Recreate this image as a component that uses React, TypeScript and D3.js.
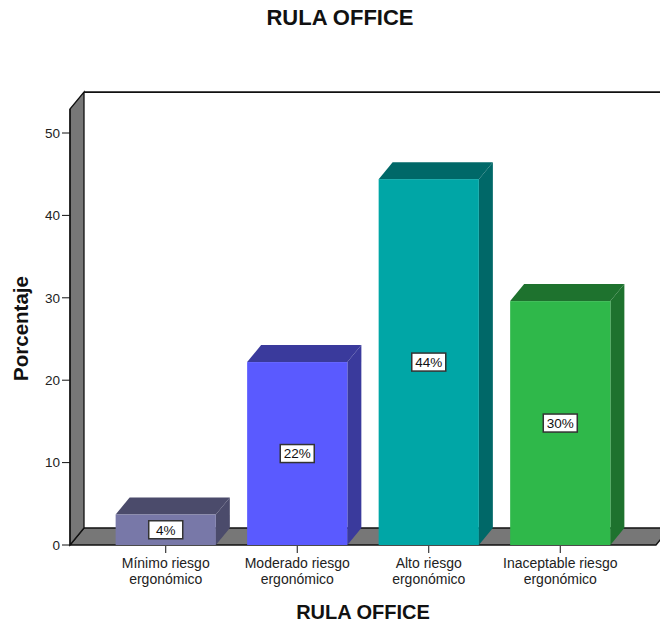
import React from "react";
import * as d3 from "d3";

// Share of workers in each RULA Office risk level (percent)
const categories: string[][] = [
  ["Mínimo riesgo", "ergonómico"],
  ["Moderado riesgo", "ergonómico"],
  ["Alto riesgo", "ergonómico"],
  ["Inaceptable riesgo", "ergonómico"],
];
const percentages: number[] = [3.7, 22.2, 44.4, 29.6];
const frontColors: string[] = ["#7878a8", "#5a5aff", "#00a6a6", "#2fb84a"];
const shadeColors: string[] = ["#4b4b6b", "#3a3a9c", "#006868", "#1e722e"];
const yTicks: number[] = [0, 10, 20, 30, 40, 50];

const W = 660;
const H = 623;
const DX = 14; // depth offset of the 3D frame
const DY = 17;

export default function App() {
  const x0 = 70;
  const x1 = 656;
  const y = d3.scaleLinear().domain([0, 50]).range([545, 133]);
  const yTop = y(52.9);
  const x = d3
    .scaleBand<number>()
    .domain(d3.range(categories.length))
    .range([x0, x1])
    .paddingInner(0.238)
    .paddingOuter(0.347);
  const fmt = d3.format(".0f");
  const font = "'Liberation Sans', Arial, sans-serif";

  const floor = [
    [x0, y(0)],
    [x1, y(0)],
    [x1 + DX, y(0) - DY],
    [x0 + DX, y(0) - DY],
  ];
  const wall = [
    [x0, y(0)],
    [x0 + DX, y(0) - DY],
    [x0 + DX, yTop - DY],
    [x0, yTop],
  ];
  const pts = (p: number[][]) => p.map((d) => d.join(",")).join(" ");

  return (
    <svg width={W} height={H} style={{ position: "absolute", left: 0, top: 0 }} fontFamily={font}>
      <rect width={W} height={H} fill="#fff" />
      <text x={340} y={25} textAnchor="middle" fontSize={22} fontWeight="bold" fill="#111">
        RULA OFFICE
      </text>

      {/* frame: floor, left wall and top edge of the back wall */}
      <polygon points={pts(floor)} fill="#777" stroke="#111" strokeWidth={1.3} />
      <polygon points={pts(wall)} fill="#777" stroke="#111" strokeWidth={1.3} />
      <line x1={x0 + DX} x2={W} y1={yTop - DY} y2={yTop - DY} stroke="#111" strokeWidth={1.6} />

      {/* y axis */}
      <line x1={x0} x2={x0} y1={y(0)} y2={yTop} stroke="#111" strokeWidth={1.3} />
      {yTicks.map((t) => (
        <g key={t} transform={`translate(0,${y(t)})`}>
          <line x1={x0 - 8} x2={x0} stroke="#111" strokeWidth={1} />
          <text x={x0 - 10} dy="0.35em" textAnchor="end" fontSize={13.5} fill="#222">
            {t}
          </text>
        </g>
      ))}
      <text
        transform={`translate(28,328.5) rotate(-90)`}
        textAnchor="middle"
        fontSize={20.5}
        fontWeight="bold"
        fill="#111"
      >
        Porcentaje
      </text>

      {/* bars */}
      {percentages.map((v, i) => {
        const bx = x(i) as number;
        const bw = x.bandwidth();
        const yt = y(v);
        const yb = y(0);
        const top = [
          [bx, yt],
          [bx + DX, yt - DY],
          [bx + bw + DX, yt - DY],
          [bx + bw, yt],
        ];
        const side = [
          [bx + bw, yt],
          [bx + bw + DX, yt - DY],
          [bx + bw + DX, yb - DY],
          [bx + bw, yb],
        ];
        const cx = bx + bw / 2;
        const cy = (yt + yb) / 2;
        return (
          <g key={i}>
            <polygon points={pts(top)} fill={shadeColors[i]} />
            <polygon points={pts(side)} fill={shadeColors[i]} />
            <rect x={bx} y={yt} width={bw} height={yb - yt} fill={frontColors[i]} />
            <rect x={cx - 17} y={cy - 9} width={34} height={18} fill="#fff" stroke="#333" strokeWidth={1.5} />
            <text x={cx} y={cy} dy="0.36em" textAnchor="middle" fontSize={13.5} fill="#111">
              {fmt(v)}%
            </text>
          </g>
        );
      })}

      {/* category axis */}
      {categories.map((lines, i) => {
        const cx = (x(i) as number) + x.bandwidth() / 2;
        return (
          <g key={i}>
            <line x1={cx} x2={cx} y1={y(0) + 1} y2={y(0) + 8} stroke="#111" strokeWidth={1} />
            {lines.map((l, j) => (
              <text key={j} x={cx} y={568 + j * 16} textAnchor="middle" fontSize={14} fill="#222">
                {l}
              </text>
            ))}
          </g>
        );
      })}
      <text x={363} y={619} textAnchor="middle" fontSize={20} fontWeight="bold" fill="#111">
        RULA OFFICE
      </text>
    </svg>
  );
}
